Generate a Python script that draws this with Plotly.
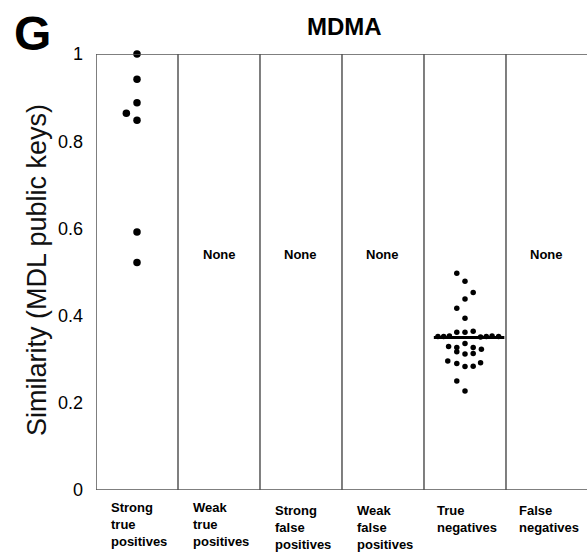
import plotly.graph_objects as go

categories = ["Strong<br>true<br>positives", "Weak<br>true<br>positives",
              "Strong<br>false<br>positives", "Weak<br>false<br>positives",
              "True<br>negatives", "False<br>negatives"]

# similarity values per category (empty => "None")
strong_tp = [1.0, 0.942, 0.888, 0.864, 0.848, 0.592, 0.522]
true_neg = [0.497, 0.479, 0.453, 0.438, 0.417, 0.394,
            0.362, 0.362, 0.364,
            0.352, 0.352, 0.353, 0.351, 0.352, 0.353, 0.352,
            0.336, 0.329, 0.327, 0.327, 0.323, 0.317, 0.312, 0.313,
            0.296, 0.290, 0.283, 0.284, 0.292, 0.250, 0.227]
true_neg_median = 0.35
y_ticks = [0, 0.2, 0.4, 0.6, 0.8, 1]
y_tick_text = ["0", "0.2", "0.4", "0.6", "0.8", "1"]

# horizontal beeswarm offsets (layout only, in column widths)
strong_tp_off = [0, 0, 0, -0.13, 0, 0, 0]
true_neg_off = [-0.1, 0, 0.1, 0, -0.1, 0,
                -0.1, 0, 0.1,
                -0.33, -0.26, -0.19, 0.19, 0.26, 0.33, 0.41,
                0, -0.2, -0.1, 0.1, 0.2, -0.1, 0, 0.1,
                -0.21, -0.1, 0, 0.1, 0.19, -0.1, 0]

FONT = "Arial, Liberation Sans, sans-serif"
fig = go.Figure()

ci = 0
fig.add_trace(go.Scatter(x=[ci + o for o in strong_tp_off], y=strong_tp, mode="markers",
                         marker=dict(color="black", size=7.5), showlegend=False, cliponaxis=False))
ci = 4
fig.add_trace(go.Scatter(x=[ci - 0.38, ci + 0.48], y=[true_neg_median] * 2, mode="lines",
                         line=dict(color="black", width=3), showlegend=False))
fig.add_trace(go.Scatter(x=[ci + o for o in true_neg_off], y=true_neg, mode="markers",
                         marker=dict(color="black", size=5.5), showlegend=False))

data_by_cat = [strong_tp, [], [], [], true_neg, []]

shapes = []
LC = "#555555"
shapes.append(dict(type="line", xref="x", yref="y", x0=-0.5, x1=5.6, y0=1, y1=1, line=dict(color=LC, width=1.5)))
shapes.append(dict(type="line", xref="x", yref="y", x0=-0.5, x1=5.6, y0=0, y1=0, line=dict(color=LC, width=1.5)))
for k in range(6):
    shapes.append(dict(type="line", xref="x", yref="y", x0=k - 0.5, x1=k - 0.5, y0=0, y1=1,
                       line=dict(color=LC, width=1.5)))

annotations = []
label_y = [-0.021, -0.021, -0.027, -0.027, -0.027, -0.027]
for i, (cat, vals) in enumerate(zip(categories, data_by_cat)):
    annotations.append(dict(x=i, y=label_y[i], xref="x", yref="paper", text="<b>%s</b>" % cat,
                            showarrow=False, xanchor="center", yanchor="top", align="left",
                            xshift=2, borderpad=0, font=dict(family=FONT, size=13, color="black")))
    if not vals:
        annotations.append(dict(x=i, y=0.541, xref="x", yref="y", text="<b>None</b>",
                                showarrow=False, font=dict(family=FONT, size=13, color="black")))

annotations.append(dict(x=0, y=0.5, xref="paper", yref="paper", xshift=-76, yshift=2, textangle=-90,
                        text="Similarity (MDL public keys)", showarrow=False,
                        font=dict(family=FONT, size=27, color="#111")))
annotations.append(dict(x=0, y=1, xref="paper", yref="paper", xshift=-64, yshift=21,
                        xanchor="center", yanchor="middle", text="<b>G</b>", showarrow=False,
                        font=dict(family=FONT, size=48, color="black")))
annotations.append(dict(x=0, y=1, xref="paper", yref="paper", xshift=248, yshift=28,
                        xanchor="center", yanchor="middle", text="<b>MDMA</b>", showarrow=False,
                        font=dict(family=FONT, size=24, color="black")))

fig.update_layout(
    width=587, height=552,
    margin=dict(l=96, r=0, t=54, b=62),
    paper_bgcolor="white", plot_bgcolor="white",
    xaxis=dict(range=[-0.5, 5.488], showgrid=False, zeroline=False, showticklabels=False,
               showline=False, fixedrange=True),
    yaxis=dict(range=[0, 1], tickvals=y_ticks, ticktext=y_tick_text, showgrid=False,
               zeroline=False, showline=False, ticks="", ticklabelstandoff=12,
               tickfont=dict(family=FONT, size=18, color="black")),
    shapes=shapes, annotations=annotations,
)

fig.write_html("out.html")
